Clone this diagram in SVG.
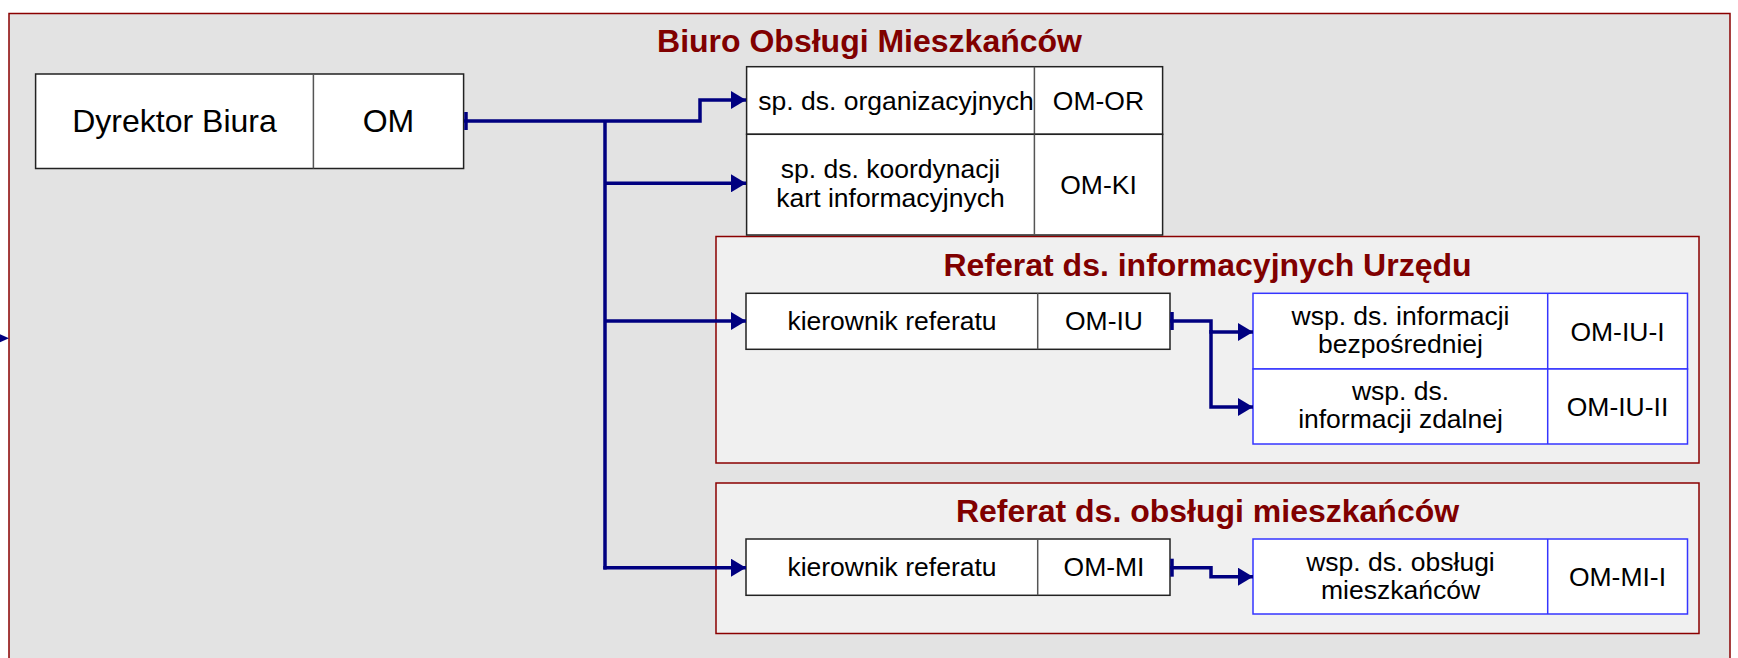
<svg xmlns="http://www.w3.org/2000/svg" width="1738" height="658" viewBox="0 0 1738 658">
<style>
.frame{fill:#e3e3e3;stroke:#8b0000;stroke-width:1.5}
.sub{fill:#f0f0f0;stroke:#8b0000;stroke-width:1.5}
.box{fill:#ffffff;stroke:#222;stroke-width:1.5}
.div{stroke:#555;stroke-width:1.5}
.bbox{fill:#ffffff;stroke:#3535ff;stroke-width:1.5}
.bdiv{stroke:#3535ff;stroke-width:1.5}
.title{font-family:"Liberation Sans",Arial,sans-serif;font-weight:bold;font-size:32px;fill:#800000;text-anchor:middle}
.t{font-family:"Liberation Sans",Arial,sans-serif;font-size:26.5px;fill:#000;text-anchor:middle}
.tl{font-family:"Liberation Sans",Arial,sans-serif;font-size:32px;fill:#000;text-anchor:middle}
.c{fill:none;stroke:#000080;stroke-width:3.5}
.tick{stroke:#000080;stroke-width:3.5}
</style>
<defs>
<marker id="arr" markerUnits="userSpaceOnUse" markerWidth="16" markerHeight="18" refX="15" refY="9" orient="auto" viewBox="0 0 16 18">
<path d="M0,0 L15,9 L0,18 z" fill="#000080"/>
</marker>
</defs>
<rect class="frame" x="9" y="13.5" width="1721" height="700"/>
<polygon points="-6,331.5 9,338.3 -6,345" fill="#000080"/>
<text class="title" x="869.5" y="51.5">Biuro Obsługi Mieszkańców</text>

<g id="ref-iu">
<rect class="sub" x="716" y="236.5" width="983" height="226.5"/>
<text class="title" x="1207.5" y="276">Referat ds. informacyjnych Urzędu</text>
</g>
<g id="ref-mi">
<rect class="sub" x="716" y="483" width="983" height="150.5"/>
<text class="title" x="1207.5" y="521.5">Referat ds. obsługi mieszkańców</text>
</g>

<g id="dyrektor">
<rect class="box" x="35.6" y="74" width="428" height="94.5"/>
<line class="div" x1="313.4" y1="74" x2="313.4" y2="168.5"/>
<text class="tl" x="174.5" y="132">Dyrektor Biura</text>
<text class="tl" x="388.5" y="132">OM</text>
</g>

<g id="om-or">
<rect class="box" x="746.6" y="66.7" width="416" height="67.6"/>
<line class="div" x1="1034.4" y1="66.7" x2="1034.4" y2="134.3"/>
<text class="t" x="896" y="110">sp. ds. organizacyjnych</text>
<text class="t" x="1098.5" y="110">OM-OR</text>
</g>
<g id="om-ki">
<rect class="box" x="746.6" y="134.3" width="416" height="100.7"/>
<line class="div" x1="1034.4" y1="134.3" x2="1034.4" y2="235"/>
<text class="t" x="890.5" y="178.3">sp. ds. koordynacji</text>
<text class="t" x="890.5" y="207.3">kart informacyjnych</text>
<text class="t" x="1098.5" y="194">OM-KI</text>
</g>

<g id="om-iu">
<rect class="box" x="746" y="293.3" width="424" height="56"/>
<line class="div" x1="1037.7" y1="293.3" x2="1037.7" y2="349.3"/>
<text class="t" x="892" y="330">kierownik referatu</text>
<text class="t" x="1104" y="330">OM-IU</text>
</g>
<g id="om-iu-i">
<rect class="bbox" x="1253" y="293.3" width="434.5" height="75.7"/>
<line class="bdiv" x1="1547.7" y1="293.3" x2="1547.7" y2="369"/>
<text class="t" x="1400.5" y="325">wsp. ds. informacji</text>
<text class="t" x="1400.5" y="353.3">bezpośredniej</text>
<text class="t" x="1617.5" y="340.5">OM-IU-I</text>
</g>
<g id="om-iu-ii">
<rect class="bbox" x="1253" y="369" width="434.5" height="75"/>
<line class="bdiv" x1="1547.7" y1="369" x2="1547.7" y2="444"/>
<text class="t" x="1400.5" y="400">wsp. ds.</text>
<text class="t" x="1400.5" y="428.3">informacji zdalnej</text>
<text class="t" x="1617.5" y="416">OM-IU-II</text>
</g>

<g id="om-mi">
<rect class="box" x="746" y="539" width="424" height="56.3"/>
<line class="div" x1="1037.7" y1="539" x2="1037.7" y2="595.3"/>
<text class="t" x="892" y="576">kierownik referatu</text>
<text class="t" x="1104" y="576">OM-MI</text>
</g>
<g id="om-mi-i">
<rect class="bbox" x="1253" y="539" width="434.5" height="75"/>
<line class="bdiv" x1="1547.7" y1="539" x2="1547.7" y2="614"/>
<text class="t" x="1400.5" y="570.7">wsp. ds. obsługi</text>
<text class="t" x="1400.5" y="599.3">mieszkańców</text>
<text class="t" x="1617.5" y="586">OM-MI-I</text>
</g>

<g id="connectors">
<line class="tick" x1="466" y1="112" x2="466" y2="130"/>
<polyline class="c" points="464,121 700,121 700,100 746,100" marker-end="url(#arr)"/>
<line class="c" x1="605" y1="121" x2="605" y2="569.5"/>
<line class="c" x1="605" y1="183.3" x2="746" y2="183.3" marker-end="url(#arr)"/>
<line class="c" x1="605" y1="321" x2="746" y2="321" marker-end="url(#arr)"/>
<line class="c" x1="603.3" y1="567.7" x2="746" y2="567.7" marker-end="url(#arr)"/>
<line class="tick" x1="1172" y1="312" x2="1172" y2="330"/>
<polyline class="c" points="1170,321 1211,321 1211,332 1253,332" marker-end="url(#arr)"/>
<polyline class="c" points="1211,330 1211,407 1253,407" marker-end="url(#arr)"/>
<line class="tick" x1="1172" y1="558.7" x2="1172" y2="576.7"/>
<polyline class="c" points="1170,567.7 1211,567.7 1211,576.7 1253,576.7" marker-end="url(#arr)"/>
</g>
</svg>
